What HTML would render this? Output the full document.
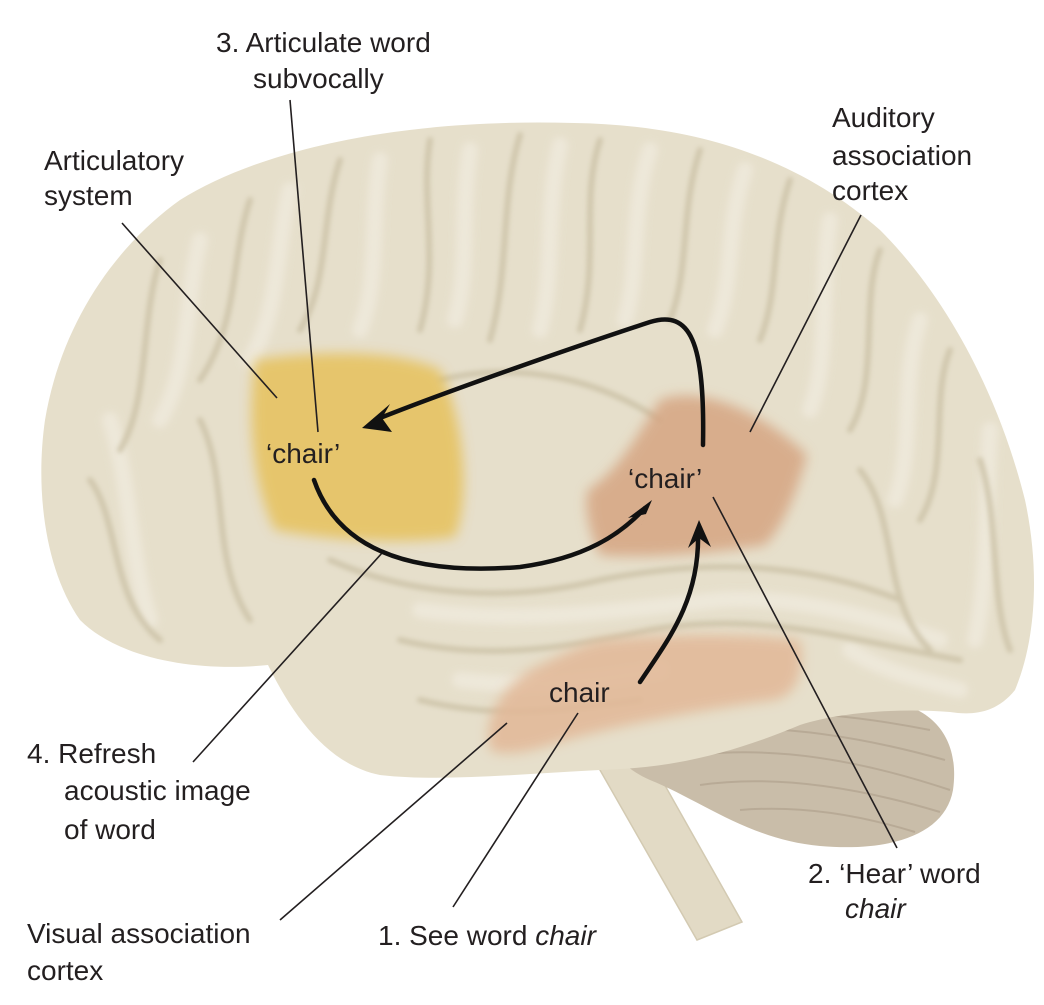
<!DOCTYPE html>
<html><head><meta charset="utf-8"><style>
html,body{margin:0;padding:0;background:#fff;}
svg{display:block;}
text{font-family:"Liberation Sans",sans-serif;font-size:28px;fill:#231f20;}
</style></head><body>
<svg width="1044" height="1005" viewBox="0 0 1044 1005" xmlns="http://www.w3.org/2000/svg">
<defs>
<filter id="blur" x="-10%" y="-10%" width="120%" height="120%"><feGaussianBlur stdDeviation="6"/></filter>
<filter id="blur2"><feGaussianBlur stdDeviation="2.5"/></filter>
<filter id="blur3"><feGaussianBlur stdDeviation="4"/></filter>
</defs>
<!-- brainstem -->
<path d="M580,735 L645,750 L742,922 L697,940 Z" fill="#e2dac5" stroke="#d3cab2" stroke-width="1.5"/>
<!-- cerebellum -->
<path d="M600,712 C650,695 770,695 880,700 C935,705 960,740 953,790 C945,835 890,852 820,846 C750,840 700,800 650,780 C615,765 598,735 600,712 Z" fill="#c9bda9"/>
<g stroke="#ad9f8b" stroke-width="2" fill="none" opacity="0.6">
<path d="M640,740 C720,720 820,725 945,760"/>
<path d="M660,760 C740,745 830,750 950,790"/>
<path d="M700,785 C770,775 850,785 940,812"/>
<path d="M740,810 C800,805 860,815 915,832"/>
<path d="M620,722 C700,705 820,708 930,730"/>
</g>
<!-- brain cerebrum -->
<path d="M574,123 C700,125 800,160 880,230 C950,300 1000,400 1025,500 C1040,570 1036,640 1015,690 C995,715 970,715 950,712 C900,708 840,712 800,725 C740,750 680,768 600,770 C520,774 440,782 380,775 C330,765 295,720 268,665 C200,672 120,660 80,620 C45,570 35,490 45,420 C60,330 110,250 180,200 C260,150 400,118 574,123 Z" fill="#e6dfcb"/>
<!-- gyri highlights -->
<g stroke="#f1ece0" stroke-width="16" fill="none" stroke-linecap="round" opacity="0.7" filter="url(#blur3)">
<path d="M470,150 C460,210 470,270 455,320"/>
<path d="M560,145 C545,210 555,270 540,330"/>
<path d="M650,150 C630,210 640,270 625,320"/>
<path d="M745,170 C725,230 735,280 715,330"/>
<path d="M380,160 C370,220 380,280 360,330"/>
<path d="M290,190 C275,250 280,310 250,360"/>
<path d="M200,240 C185,300 190,370 160,420"/>
<path d="M110,420 C130,480 130,560 150,620"/>
<path d="M830,220 C820,280 830,360 810,410"/>
<path d="M920,320 C900,380 915,450 895,500"/>
<path d="M990,430 C985,500 990,570 975,640"/>
<path d="M420,610 C520,625 620,610 720,600 C800,595 880,620 940,640"/>
<path d="M460,680 C540,690 600,680 660,670"/>
<path d="M850,650 C880,670 920,680 960,690"/>
</g>
<!-- sulci -->
<g stroke="#cbc1a6" stroke-width="6" fill="none" stroke-linecap="round" opacity="0.8" filter="url(#blur2)">
<path d="M430,140 C420,200 440,260 420,330"/>
<path d="M520,135 C500,200 510,270 490,340"/>
<path d="M600,140 C580,200 600,260 580,330"/>
<path d="M700,150 C680,210 690,270 670,320"/>
<path d="M790,180 C770,240 780,290 760,340"/>
<path d="M340,160 C320,220 330,280 300,330"/>
<path d="M250,200 C230,260 240,320 200,380"/>
<path d="M160,260 C140,320 150,400 120,450"/>
<path d="M880,250 C860,300 880,380 850,430"/>
<path d="M950,350 C930,400 950,470 920,520"/>
<path d="M90,480 C120,520 110,600 160,640"/>
<path d="M200,420 C230,480 210,560 250,620"/>
<path d="M330,560 C420,600 520,600 600,580 C700,560 800,560 900,600"/>
<path d="M400,640 C480,660 560,650 650,630 C760,610 850,640 960,660"/>
<path d="M420,700 C500,720 560,710 640,700"/>
<path d="M440,380 C520,360 600,380 660,420"/>
<path d="M860,470 C900,520 880,600 930,650"/>
<path d="M980,460 C1000,520 990,600 1010,650"/>
</g>
<!-- colored regions -->
<path d="M255,360 C320,350 400,350 440,370 C465,420 470,500 455,537 C400,545 330,540 275,530 C250,480 248,410 255,360 Z" fill="#e6c15c" opacity="0.85" filter="url(#blur)"/>
<path d="M660,400 C700,385 760,410 807,455 C795,500 780,530 765,545 C700,555 640,558 600,555 C588,530 584,505 588,490 C620,470 640,430 660,400 Z" fill="#d6a582" opacity="0.85" filter="url(#blur)"/>
<path d="M600,640 C680,632 760,634 800,640 C806,675 795,695 775,700 C700,710 620,725 560,742 C530,752 505,757 490,750 C482,720 500,690 530,670 C560,655 580,645 600,640 Z" fill="#e2b897" opacity="0.85" filter="url(#blur)"/>
<!-- leader lines -->
<g stroke="#231f20" stroke-width="1.6" fill="none">
<line x1="122" y1="223" x2="277" y2="398"/>
<line x1="290" y1="100" x2="318" y2="432"/>
<line x1="861" y1="215" x2="750" y2="432"/>
<line x1="713" y1="497" x2="897" y2="848"/>
<line x1="382" y1="553" x2="193" y2="762"/>
<line x1="507" y1="723" x2="280" y2="920"/>
<line x1="578" y1="713" x2="453" y2="907"/>
</g>
<!-- arrows -->
<g stroke="#111" stroke-width="4.5" fill="none" stroke-linecap="round">
<path d="M703,445 C705,340 690,310 650,322 C580,345 450,390 375,420"/>
<path d="M314,480 C340,555 420,575 520,567 C585,558 620,535 645,508"/>
<path d="M640,682 C668,640 700,600 698,532"/>
</g>
<g fill="#111">
<polygon points="362,428 390,404 382,418 392,432"/>
<polygon points="652,500 640,528 646,514 628,518"/>
<polygon points="699,520 688,548 699,538 711,547"/>
</g>
<!-- labels -->
<text x="216" y="52">3. Articulate word</text>
<text x="253" y="88">subvocally</text>
<text x="44" y="170">Articulatory</text>
<text x="44" y="205">system</text>
<text x="832" y="127">Auditory</text>
<text x="832" y="165">association</text>
<text x="832" y="200">cortex</text>
<text x="266" y="463">‘chair’</text>
<text x="628" y="488">‘chair’</text>
<text x="549" y="702">chair</text>
<text x="27" y="763">4. Refresh</text>
<text x="64" y="800">acoustic image</text>
<text x="64" y="839">of word</text>
<text x="808" y="883">2. ‘Hear’ word</text>
<text x="845" y="918" font-style="italic">chair</text>
<text x="27" y="943">Visual association</text>
<text x="27" y="980">cortex</text>
<text x="378" y="945">1. See word <tspan font-style="italic">chair</tspan></text>
</svg>
</body></html>
